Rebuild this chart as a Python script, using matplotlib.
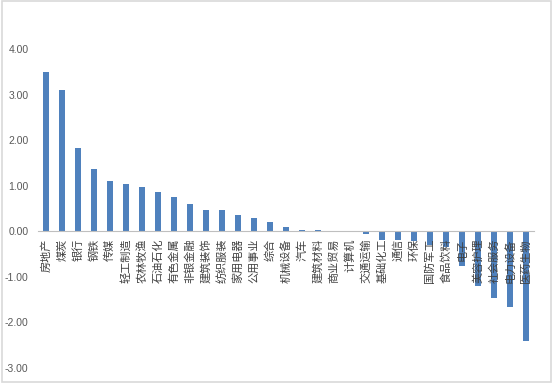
import matplotlib.pyplot as plt
from matplotlib.patches import Rectangle

'''industry bar chart, labels sit on the zero line'''

plt.rcParams['font.family'] = ['Noto Sans CJK SC', 'DejaVu Sans']

industries = ['房地产', '煤炭', '银行', '钢铁', '传媒', '轻工制造', '农林牧渔', '石油石化',
              '有色金属', '非银金融', '建筑装饰', '纺织服装', '家用电器', '公用事业', '综合',
              '机械设备', '汽车', '建筑材料', '商业贸易', '计算机', '交通运输', '基础化工',
              '通信', '环保', '国防军工', '食品饮料', '电子', '美容护理', '社会服务',
              '电力设备', '医药生物']
values = [3.49, 3.11, 1.83, 1.36, 1.10, 1.03, 0.98, 0.86, 0.75, 0.61, 0.47, 0.46,
          0.36, 0.29, 0.20, 0.10, 0.04, 0.03, 0.01, -0.02, -0.06, -0.18, -0.20,
          -0.22, -0.30, -0.35, -0.76, -1.21, -1.47, -1.67, -2.40]
y_ticks = [4, 3, 2, 1, 0, -1, -2, -3]

fig = plt.figure(figsize=(5.53, 3.83), dpi=100)
ax = fig.add_axes([0.069, 0.039, 0.897, 0.833])

x = range(len(industries))
ax.bar(x, values, width=0.36, color='#4F81BD', zorder=1)

ax.set_xlim(-0.5, len(industries) - 0.5)
ax.set_ylim(-3, 4)
ax.set_yticks(y_ticks)
ax.set_yticklabels(['%.2f' % v for v in y_ticks], fontsize=7.5, color='#595959',
                   family='Liberation Sans')

# category axis drawn on the zero line
ax.spines['bottom'].set_position(('data', 0))
ax.spines['bottom'].set_color('#bfbfbf')
ax.spines['bottom'].set_linewidth(0.8)
for s in ['top', 'right', 'left']:
    ax.spines[s].set_visible(False)
ax.set_xticks(list(x))
ax.set_xticklabels(industries, rotation=90, fontsize=8, color='#404040')
ax.tick_params(axis='both', length=0)
ax.tick_params(axis='x', pad=5)
ax.tick_params(axis='y', pad=7)
for lbl in ax.get_xticklabels():
    lbl.set_zorder(3)

# light border round the chart
fig.patches.append(Rectangle((0.003, 0.003), 0.994, 0.994, transform=fig.transFigure,
                             fill=False, edgecolor='#d9d9d9', linewidth=1.2))

fig.savefig('out.png', dpi=100)
